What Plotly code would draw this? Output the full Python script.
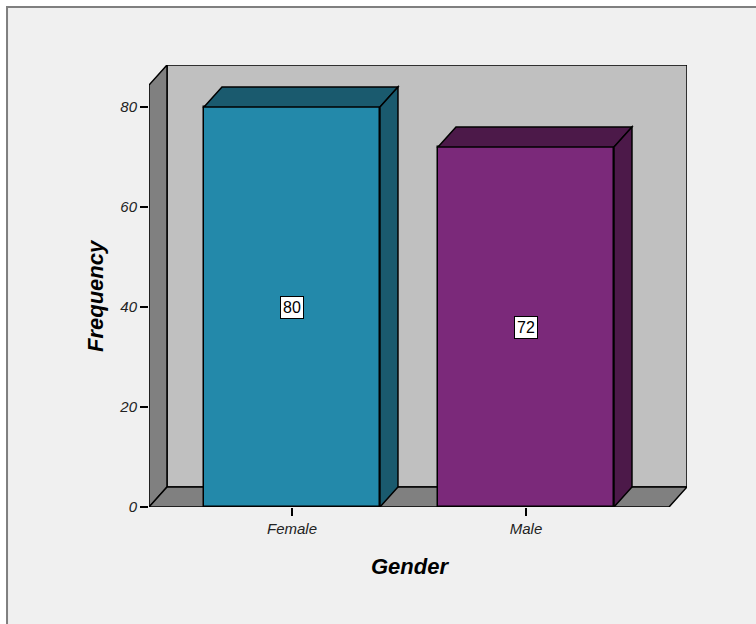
import plotly.graph_objects as go

# Frequency of respondents by gender
categories = ["Female", "Male"]
counts = [80, 72]
front_colors = ["#2389AA", "#7B297A"]
shade_colors = ["#1A5A6E", "#4C1949"]
y_ticks = [0, 20, 40, 60, 80]

# Axis geometry (data units)
x_pos = list(range(len(categories)))
bar_w = 0.752
x_lo, x_hi = -0.611, 1.688
y_top = 88.4
dx, dy = 0.0769, 4.0   # pseudo-3D depth offset
wall_top = y_top - dy

fig = go.Figure()

fig.add_trace(go.Bar(
    x=x_pos, y=counts, width=bar_w,
    marker=dict(color=front_colors, line=dict(color="#000000", width=1.5)),
    hoverinfo="x+y", showlegend=False,
))

shapes = []

def poly(pts):
    return "M " + " L ".join(f"{px},{py}" for px, py in pts) + " Z"

# Outer frame of the chart panel
shapes.append(dict(type="rect", xref="paper", yref="paper",
                   x0=-0.2639, x1=1.14, y0=-0.28, y1=1.1312,
                   fillcolor="#F0F0F0", line=dict(color="#7F7F7F", width=2),
                   layer="below"))

edge = dict(color="#000000", width=1.5)
# Back wall
shapes.append(dict(type="path", xref="x", yref="y", layer="below",
                   path=poly([(x_lo + dx, dy), (x_lo + dx, y_top), (x_hi, y_top), (x_hi, dy)]),
                   fillcolor="#C0C0C0", line=edge))
# Side wall
shapes.append(dict(type="path", xref="x", yref="y", layer="below",
                   path=poly([(x_lo, 0), (x_lo, wall_top), (x_lo + dx, y_top), (x_lo + dx, dy)]),
                   fillcolor="#808080", line=edge))
# Floor
shapes.append(dict(type="path", xref="x", yref="y", layer="below",
                   path=poly([(x_lo, 0), (x_hi - dx, 0), (x_hi, dy), (x_lo + dx, dy)]),
                   fillcolor="#808080", line=edge))

# Top and side faces of each bar
for xc, v, shade in zip(x_pos, counts, shade_colors):
    xl, xr = xc - bar_w / 2, xc + bar_w / 2
    shapes.append(dict(type="path", xref="x", yref="y", layer="above",
                       path=poly([(xl, v), (xl + dx, v + dy), (xr + dx, v + dy), (xr, v)]),
                       fillcolor=shade, line=edge))
    shapes.append(dict(type="path", xref="x", yref="y", layer="above",
                       path=poly([(xr, 0), (xr, v), (xr + dx, v + dy), (xr + dx, dy)]),
                       fillcolor=shade, line=edge))

# Value labels in the middle of each bar
annotations = []
for xc, v in zip(x_pos, counts):
    annotations.append(dict(x=xc, y=v / 2, xref="x", yref="y", text=str(v),
                            showarrow=False, bgcolor="#FFFFFF", bordercolor="#000000",
                            borderwidth=1, borderpad=2,
                            font=dict(family="Liberation Sans", size=16, color="#000000")))

tick_font = dict(family="Liberation Sans", size=15, color="#222222", style="italic")
title_font = dict(family="Liberation Sans", size=22, color="#000000", style="italic", weight="bold")

# Axis titles, centred on the front face of the frame
annotations.append(dict(text="Gender", xref="paper", yref="paper", x=0.4851, y=-0.1335,
                        xanchor="center", yanchor="middle", showarrow=False, font=title_font))
annotations.append(dict(text="Frequency", xref="paper", yref="paper", x=-0.1004, y=0.4796,
                        xanchor="center", yanchor="middle", textangle=-90,
                        showarrow=False, font=title_font))

fig.update_layout(
    width=756, height=624,
    margin=dict(l=149, r=69, t=65, b=117),
    paper_bgcolor="#FFFFFF", plot_bgcolor="rgba(0,0,0,0)",
    shapes=shapes, annotations=annotations,
    bargap=0,
    xaxis=dict(range=[x_lo, x_hi], tickvals=x_pos, ticktext=categories,
               ticks="outside", ticklen=8, tickwidth=1.5, tickcolor="#000000",
               showgrid=False, zeroline=False, showline=False,
               tickfont=tick_font),
    yaxis=dict(range=[0, y_top], tickvals=y_ticks,
               ticks="outside", ticklen=8, tickwidth=1.5, tickcolor="#000000",
               showgrid=False, zeroline=False, showline=False,
               tickfont=tick_font),
)

fig.write_html("out.html")
